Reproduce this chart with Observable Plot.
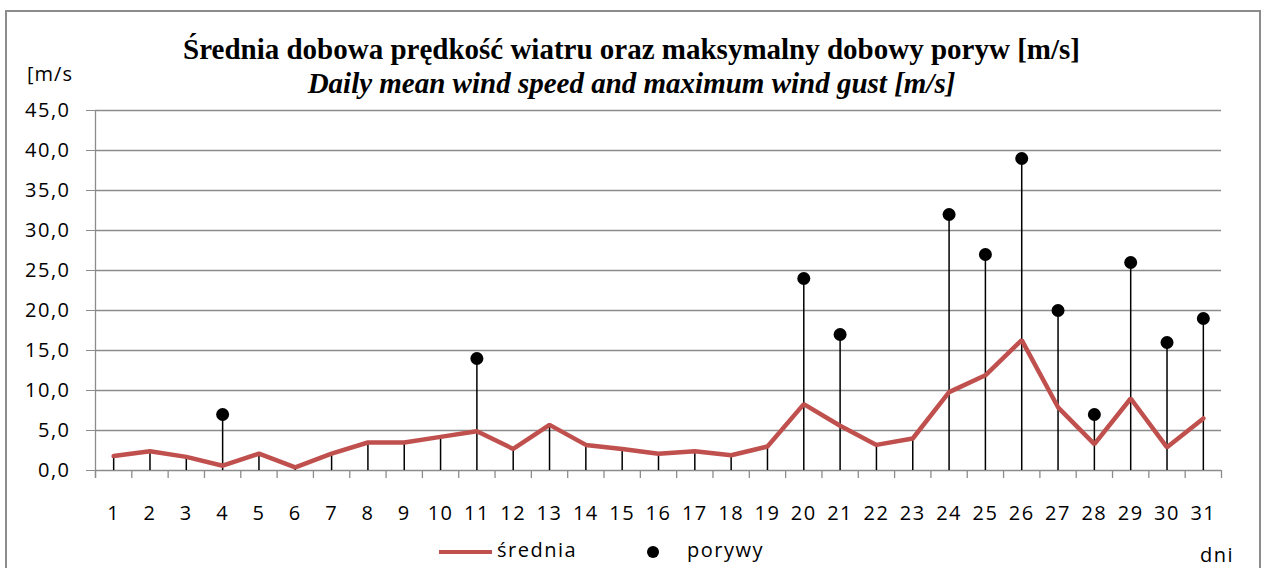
<!DOCTYPE html>
<html><head><meta charset="utf-8">
<script src="https://cdn.jsdelivr.net/npm/d3@7"></script>
<script src="https://cdn.jsdelivr.net/npm/@observablehq/plot@0.6"></script>
<style>
body{margin:0;background:#fff;}
#wrap{position:relative;width:1263px;height:568px;overflow:hidden;font-family:"Open Sans",sans-serif;color:#000;}
#frame{position:absolute;left:5px;top:10px;width:1256px;height:620px;border:2px solid #8c8c8c;box-sizing:border-box;pointer-events:none;}
#header{position:relative;height:90px;}
.t{position:absolute;left:0;width:1263px;text-align:center;font-family:"Liberation Serif",serif;font-weight:bold;white-space:nowrap;line-height:1;}
#title{top:35px;font-size:29px;}
#subtitle{top:69px;font-size:29px;font-style:italic;}
#unit{position:absolute;left:27px;top:64px;font-size:20px;line-height:20px;letter-spacing:1px;}
#chart{position:relative;height:448px;}
#legend{position:relative;height:30px;font-size:20px;letter-spacing:1.5px;}
#legend span{position:absolute;line-height:20px;white-space:nowrap;}
.sw{position:absolute;}
</style></head>
<body>
<div id="wrap">
  <div id="header">
    <div class="t" id="title">Średnia dobowa prędkość wiatru oraz maksymalny dobowy poryw [m/s]</div>
    <div class="t" id="subtitle">Daily mean wind speed and maximum wind gust [m/s]</div>
    <div id="unit">[m/s</div>
  </div>
  <div id="chart"></div>
  <div id="legend">
    <div class="sw" style="left:439px;top:12px;width:53px;height:4px;background:#c0504d;"></div>
    <span style="left:497px;top:2px;">średnia</span>
    <div class="sw" style="left:647px;top:8px;width:12px;height:12px;border-radius:50%;background:#000;"></div>
    <span style="left:687px;top:2px;">porywy</span>
    <span style="left:1200px;top:7px;">dni</span>
  </div>
  <div id="frame"></div>
</div>
<script>
const days = [1,2,3,4,5,6,7,8,9,10,11,12,13,14,15,16,17,18,19,20,21,22,23,24,25,26,27,28,29,30,31];
const meanSpeed = [1.8,2.4,1.7,0.6,2.1,0.4,2.1,3.5,3.5,4.2,4.9,2.7,5.7,3.2,2.7,2.1,2.4,1.9,3.0,8.3,5.6,3.2,4.0,9.8,11.9,16.3,7.9,3.3,9.0,2.9,6.5];
const gusts = [null,null,null,7,null,null,null,null,null,null,14,null,null,null,null,null,null,null,null,24,17,null,null,32,27,39,20,7,26,16,19];
const yTicks = [0,5,10,15,20,25,30,35,40,45];

const rows = days.map((d,i) => ({day:d, mean:meanSpeed[i], gust:gusts[i]}));
const bounds = [0.5, ...days.map(d => d + 0.5)];
const fmt = v => v.toFixed(1).replace(".", ",");

const plot = Plot.plot({
  width: 1263, height: 448,
  marginTop: 20, marginBottom: 68, marginLeft: 95, marginRight: 42,
  x: {type:"linear", domain:[0.5, 31.5]},
  y: {type:"linear", domain:[0, 45]},
  style: {fontFamily:"'Open Sans', sans-serif", fontSize:"20px", color:"#000", background:"transparent", letterSpacing:"1.5px", overflow:"visible"},
  marks: [
    Plot.ruleY(yTicks, {y: d => d, x1: 0.5, x2: 31.5, stroke:"#8c8c8c", strokeWidth:1.3}),
    Plot.ruleX(bounds, {x: d => d, y1: 0, y2: -1, stroke:"#8c8c8c", strokeWidth:1.3}),
    Plot.ruleX([0.5], {x: d => d, y1: -1, y2: 45, stroke:"#8c8c8c", strokeWidth:1.3}),
    Plot.axisY(yTicks, {tickSize:9, tickPadding:16, tickFormat: fmt, stroke:"#8c8c8c", fill:"#000", fontSize:20, label:null}),
    Plot.axisX(days, {tickSize:0, tickPadding:35, fill:"#000", fontSize:20, label:null}),
    Plot.ruleX(rows, {x:"day", y1:0, y2: d => d.gust != null ? d.gust : d.mean, stroke:"#000", strokeWidth:1.5}),
    Plot.lineY(rows, {x:"day", y:"mean", stroke:"#c0504d", strokeWidth:4.5, strokeLinejoin:"miter"}),
    Plot.dot(rows.filter(d => d.gust != null), {x:"day", y:"gust", r:6.5, fill:"#000", stroke:"none"})
  ]
});
document.getElementById("chart").appendChild(plot);
</script>
</body></html>
